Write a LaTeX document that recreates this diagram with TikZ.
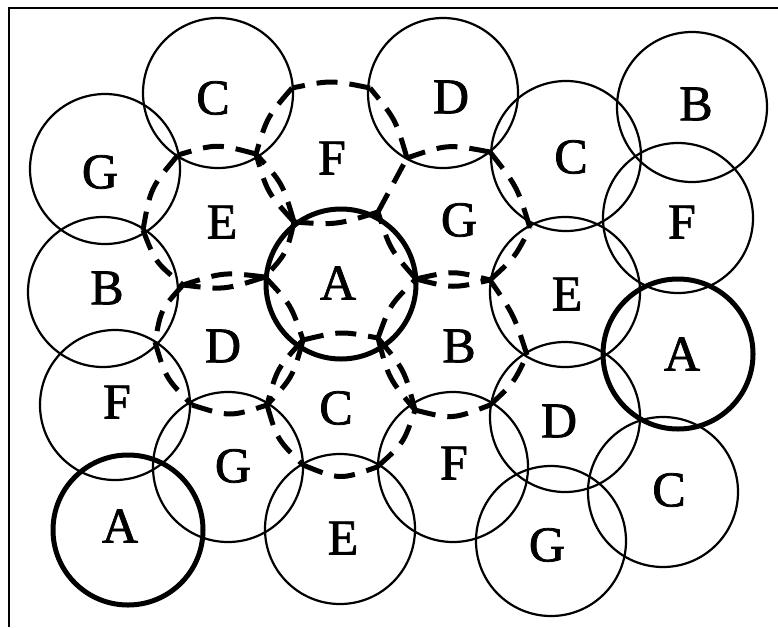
\documentclass[tikz,border=0pt]{standalone}
\usepackage{fontspec}
\setmainfont{Liberation Serif}[BoldFont=Liberation Serif,BoldFeatures={FakeBold=1.5}]
\usetikzlibrary{calc}
% dashed cell side from #1 to #2, bowed by #4 towards point #3 (negative: away from it)
\newcommand\edgebow[4]{\draw[hexline] (#1) .. controls ($(#1)!0.5!(#2)!#4!(#3)$) .. (#2);}
\begin{document}
\begin{tikzpicture}[x=1pt,y=-1pt,
  cell/.style={circle,draw,line width=2.2pt,inner sep=0pt,minimum size=150pt},
  cellbold/.style={cell,line width=5pt},
  hexline/.style={line width=5pt,dash pattern=on 21pt off 12pt},
  lbl/.style={inner sep=0pt,font=\fontsize{50}{50}\selectfont\bfseries},
  frameline/.style={line width=2.6pt}]
\useasboundingbox (0,0) rectangle (778,627);

% frame (top and left sides)
\coordinate (f0) at (9,627);
\coordinate (f1) at (9,8);
\coordinate (f2) at (778,8);
\draw[frameline] (f0) -- (f1) -- (f2);

% coverage circles
\node[cell] (cC1) at (218,93) {};
\node[cell] (cD1) at (443,93) {};
\node[cell] (cB1) at (692,107) {};
\node[cell] (cG1) at (105,169) {};
\node[cell] (cC2) at (566,156) {};
\node[cell] (cF1) at (678,218) {};
\node[cell] (cB2) at (103,292) {};
\node[cell] (cE1) at (565,292) {};
\node[cellbold] (cA1) at (678,354) {};
\node[cellbold] (cA0) at (341,284) {};
\node[cell] (cF2) at (115,405) {};
\node[cell] (cD2) at (565,417) {};
\node[cell] (cG2) at (228,467) {};
\node[cell] (cF3) at (453,467) {};
\node[cell] (cC3) at (663,492) {};
\node[cellbold] (cA2) at (128,530) {};
\node[cell] (cE2) at (340,529) {};
\node[cell] (cG3) at (551,541) {};

% cell centres of the seven-cell cluster
\coordinate (hA) at (340,278);
\coordinate (hF) at (332,152);
\coordinate (hG) at (453,217);
\coordinate (hB) at (453,346);
\coordinate (hC) at (340,405);
\coordinate (hD) at (227,342);
\coordinate (hE) at (219,219);
% corners
\coordinate (a1) at (416,279);
\coordinate (a2) at (378,212);
\coordinate (a3) at (294,222);
\coordinate (a4) at (265,277);
\coordinate (a5) at (303,340);
\coordinate (a6) at (378,338);
\coordinate (p1) at (407,158);
\coordinate (p2) at (370,88);
\coordinate (p3) at (292,88);
\coordinate (p4) at (256,154);
\coordinate (g2) at (490,152);
\coordinate (g3) at (530,228);
\coordinate (g4) at (490,280);
\coordinate (b3) at (527,355);
\coordinate (b4) at (490,405);
\coordinate (b5) at (415,410);
\coordinate (c4) at (377,467);
\coordinate (c5) at (303,465);
\coordinate (c6) at (267,405);
\coordinate (d4) at (192,405);
\coordinate (d5) at (155,342);
\coordinate (d6) at (183,285);
\coordinate (e5) at (143,230);
\coordinate (e6) at (178,155);

% centre cell
\edgebow{a1}{a2}{hA}{8pt}
\edgebow{a2}{a3}{hA}{8pt}
\edgebow{a3}{a4}{hA}{8pt}
\edgebow{a4}{a5}{hA}{8pt}
\edgebow{a5}{a6}{hA}{8pt}
\edgebow{a6}{a1}{hA}{8pt}
% sides between neighbouring outer cells
\draw[hexline] (a2) -- (p1);
\edgebow{a1}{g4}{hG}{9pt}
\edgebow{a1}{g4}{hB}{9pt}
\edgebow{a6}{b5}{hB}{9pt}
\edgebow{a6}{b5}{hC}{9pt}
\edgebow{a5}{c6}{hC}{9pt}
\edgebow{a5}{c6}{hD}{9pt}
\edgebow{a4}{d6}{hD}{9pt}
\edgebow{a4}{d6}{hE}{9pt}
\edgebow{a3}{p4}{hE}{9pt}
\edgebow{a3}{p4}{hF}{9pt}
% outer boundary of the cluster
\edgebow{p1}{p2}{hF}{-8pt}
\edgebow{p2}{p3}{hF}{-8pt}
\edgebow{p3}{p4}{hF}{-8pt}
\edgebow{p4}{e6}{hE}{-11pt}
\edgebow{e6}{e5}{hE}{-11pt}
\edgebow{e5}{d6}{hE}{-9pt}
\edgebow{d6}{d5}{hD}{-9pt}
\edgebow{d5}{d4}{hD}{-9pt}
\edgebow{d4}{c6}{hD}{-12pt}
\edgebow{c6}{c5}{hC}{-9pt}
\edgebow{c5}{c4}{hC}{-14pt}
\edgebow{c4}{b5}{hC}{-9pt}
\edgebow{b5}{b4}{hB}{-12pt}
\edgebow{b4}{b3}{hB}{-6pt}
\edgebow{b3}{g4}{hB}{-6pt}
\edgebow{g4}{g3}{hG}{-6pt}
\edgebow{g3}{g2}{hG}{-8pt}
\edgebow{g2}{p1}{hG}{-11pt}

% labels
\node[lbl] (lC1) at (213,98) {C};
\node[lbl] (lD1) at (451,97) {D};
\node[lbl] (lB1) at (696,104) {B};
\node[lbl] (lG1) at (100,172) {G};
\node[lbl] (lC2) at (571,157) {C};
\node[lbl] (lF0) at (332,158) {F};
\node[lbl] (lE0) at (222,222) {E};
\node[lbl] (lG0) at (459,220) {G};
\node[lbl] (lF1) at (682,222) {F};
\node[lbl] (lB2) at (107,288) {B};
\node[lbl] (lA0) at (338,283) {A};
\node[lbl] (lE1) at (567,294) {E};
\node[lbl] (lD0) at (223,346) {D};
\node[lbl] (lB0) at (459,346) {B};
\node[lbl] (lA1) at (682,354) {A};
\node[lbl] (lF2) at (117,402) {F};
\node[lbl] (lC0) at (336,408) {C};
\node[lbl] (lD2) at (559,421) {D};
\node[lbl] (lG2) at (233,466) {G};
\node[lbl] (lF3) at (454,463) {F};
\node[lbl] (lC3) at (669,490) {C};
\node[lbl] (lA2) at (120,526) {A};
\node[lbl] (lE2) at (343,538) {E};
\node[lbl] (lG3) at (547,545) {G};
\end{tikzpicture}
\end{document}
